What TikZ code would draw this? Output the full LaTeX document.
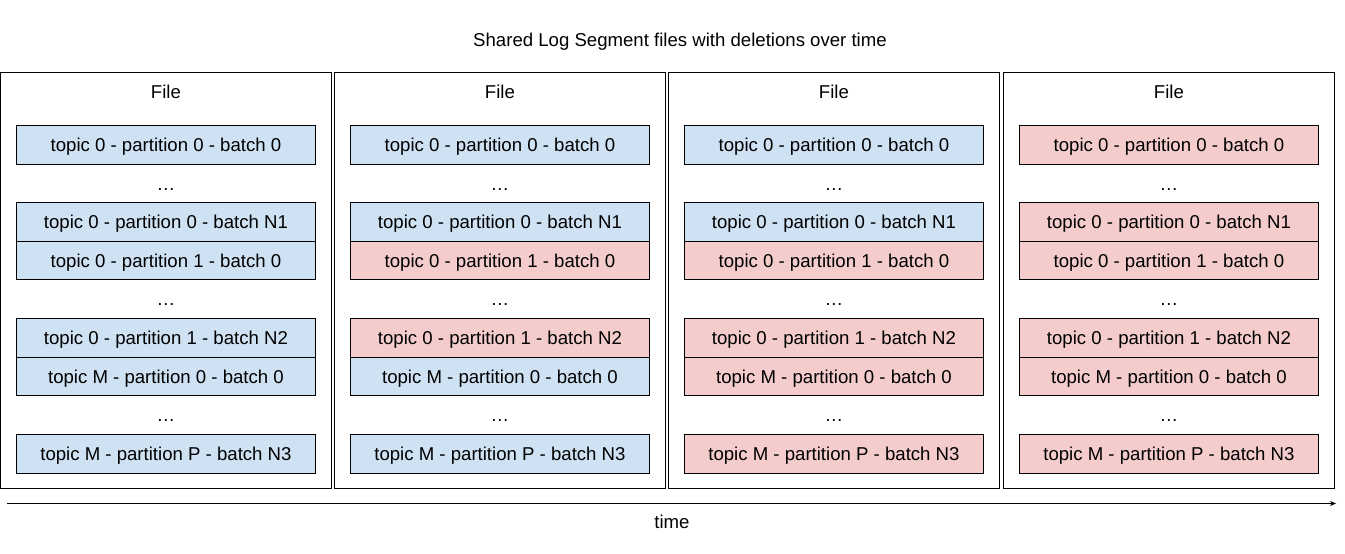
\documentclass[tikz,border=0pt]{standalone}
\usepackage{fontspec}
\setmainfont{Liberation Sans}
\usetikzlibrary{arrows.meta}
\definecolor{bl}{HTML}{CFE2F3}
\definecolor{rd}{HTML}{F4CCCC}
\begin{document}
\begin{tikzpicture}[x=1pt,y=-1pt,
  txt/.style={font=\fontsize{18.6}{22}\selectfont, text height=13.3pt, text depth=0pt},
  filebox/.style={draw=black, line width=0.9pt, minimum width=331pt, minimum height=416pt, inner sep=0pt, anchor=north west},
  rowbox/.style={txt, draw=black, line width=0.8pt, minimum width=299pt, minimum height=38.5pt, inner sep=0pt},
  lbl/.style={txt, inner sep=0pt},
  dots/.style={txt, inner sep=0pt}]
\useasboundingbox (0,0) rectangle (1345,554);
\node[lbl] (title) at (680,40) {Shared Log Segment files with deletions over time};
\foreach \i/\x/\ca/\cb/\cc/\cd/\ce/\cf in {1/0/bl/bl/bl/bl/bl/bl, 2/334/bl/bl/rd/rd/bl/bl, 3/668/bl/bl/rd/rd/rd/rd, 4/1003/rd/rd/rd/rd/rd/rd}{
  \node[filebox, minimum width=331pt] (f\i) at (\x,71.5) {};
  \node[lbl] (fl\i) at (f\i.north |- 0,92) {File};
  \node[rowbox, fill=\ca] (r\i a) at (f\i.north |- 0,145) {topic 0 - partition 0 - batch 0};
  \node[dots] (d\i a) at (f\i.north |- 0,183.5) {…};
  \node[rowbox, fill=\cb] (r\i b) at (f\i.north |- 0,222) {topic 0 - partition 0 - batch N1};
  \node[rowbox, fill=\cc] (r\i c) at (f\i.north |- 0,260.5) {topic 0 - partition 1 - batch 0};
  \node[dots] (d\i b) at (f\i.north |- 0,299) {…};
  \node[rowbox, fill=\cd] (r\i d) at (f\i.north |- 0,338) {topic 0 - partition 1 - batch N2};
  \node[rowbox, fill=\ce] (r\i e) at (f\i.north |- 0,376.5) {topic M - partition 0 - batch 0};
  \node[dots] (d\i c) at (f\i.north |- 0,415) {…};
  \node[rowbox, fill=\cf] (r\i f) at (f\i.north |- 0,454) {topic M - partition P - batch N3};
}
\coordinate (ts) at (7,503.5);
\coordinate (te) at (1336,503.5);
\draw[line width=0.8pt, -{Stealth[length=6pt,width=5pt]}] (ts) -- (te);
\node[lbl] (time) at (672,522) {time};
\end{tikzpicture}
\end{document}
